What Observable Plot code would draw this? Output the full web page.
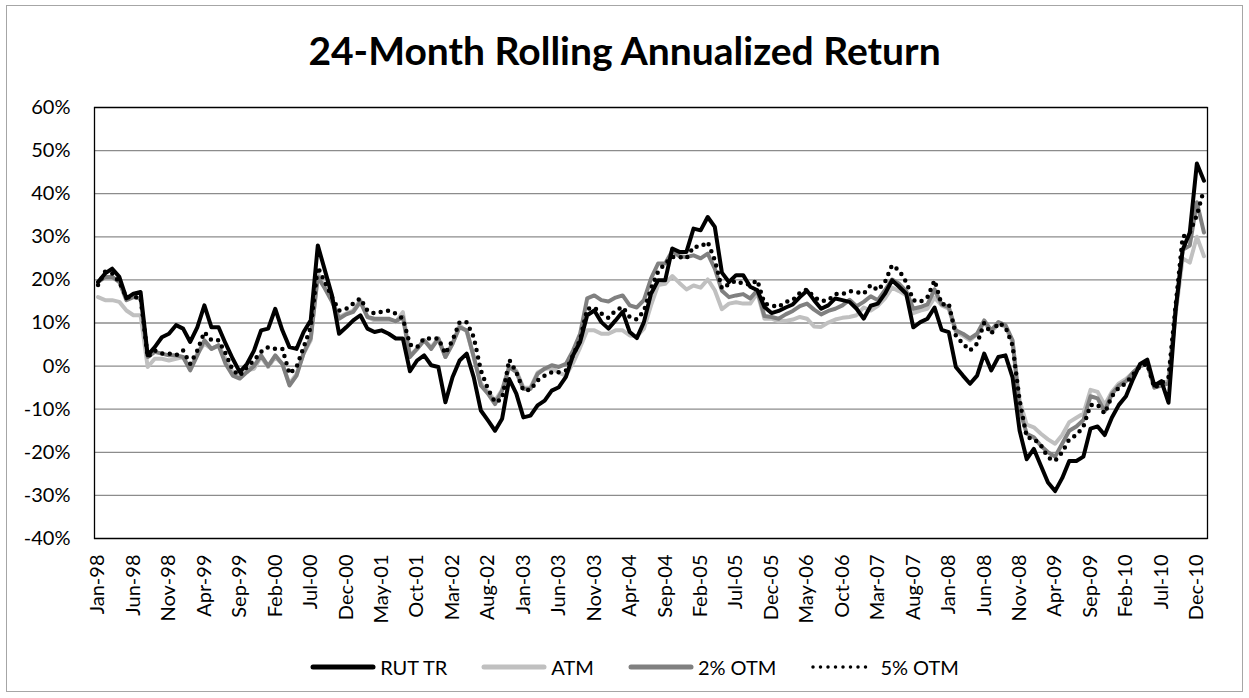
<!DOCTYPE html>
<html>
<head>
<meta charset="utf-8">
<script src="https://cdn.jsdelivr.net/npm/d3@7"></script>
<script src="https://cdn.jsdelivr.net/npm/@observablehq/plot@0.6"></script>
<style>
  html, body { margin: 0; padding: 0; background: #fff; }
  #chart { position: relative; width: 1249px; height: 698px; font-family: Lato, "Open Sans", sans-serif; overflow: hidden; }
  #frame { position: absolute; left: 6px; top: 5px; width: 1235px; height: 685px; border: 1.5px solid #a6a6a6; }
  #title { position: absolute; left: 0; top: 28px; width: 1249px; text-align: center; font-size: 39px; font-weight: 700; line-height: 44px; color: #000; }
  #plot { position: absolute; left: 0; top: 87px; }
  #legend { position: absolute; left: 10px; top: 654px; width: 1249px; display: flex; justify-content: center; align-items: center; font-size: 20px; line-height: 26px; color: #000; }
  .item { display: flex; align-items: center; margin: 0 17px; }
  .item svg { margin-right: 4px; }
</style>
</head>
<body>
<div id="chart">
  <div id="frame"></div>
  <div id="title">24-Month Rolling Annualized Return</div>
  <div id="plot"></div>
  <div id="legend"></div>
</div>
<script>
// Series names
const seriesNames = ["RUT TR", "ATM", "2% OTM", "5% OTM"];

// X tick labels, every 5 months starting Jan-98 (month index 0)
const tickLabels = ["Jan-98","Jun-98","Nov-98","Apr-99","Sep-99","Feb-00","Jul-00","Dec-00","May-01","Oct-01","Mar-02","Aug-02","Jan-03","Jun-03","Nov-03","Apr-04","Sep-04","Feb-05","Jul-05","Dec-05","May-06","Oct-06","Mar-07","Aug-07","Jan-08","Jun-08","Nov-08","Apr-09","Sep-09","Feb-10","Jul-10","Dec-10"];

// Y ticks (percent)
const yTicks = [-40, -30, -20, -10, 0, 10, 20, 30, 40, 50, 60];

// Monthly values (percent), Jan-98 .. Jan-11
const rutTR = [19.5,21.5,22.6,20.7,15.7,16.8,17.2,2.5,4.4,6.7,7.5,9.5,8.7,5.6,9.0,14.1,9.0,9.0,5.2,1.7,
  -1.4,0.5,3.6,8.3,8.7,13.3,8.3,4.4,4.0,7.9,10.6,28.0,22.2,16.4,7.5,9.0,10.6,11.8,8.7,7.9,
  8.3,7.5,6.4,6.4,-1.2,1.3,2.5,0.2,-0.2,-8.4,-2.6,1.3,2.9,-2.6,-10.3,-12.6,-15.0,-12.2,-3.0,-6.4,
  -11.9,-11.5,-9.1,-8.0,-5.7,-4.9,-2.5,2.5,5.6,11.8,12.9,10.2,8.7,10.6,12.6,7.9,6.5,10.2,16.8,19.9,
  19.9,27.3,26.5,26.5,31.9,31.5,34.6,32.3,21.7,19.5,21.1,21.1,18.4,17.6,13.7,12.3,12.8,13.6,14.3,16.0,
  17.5,15.3,13.3,14.1,15.7,15.3,14.9,13.3,11.0,14.0,14.5,16.8,19.9,18.4,16.8,9.0,10.2,11.0,13.6,8.4,
  7.9,-0.2,-2.2,-4.1,-2.2,2.9,-1.0,2.1,2.5,-2.6,-15.0,-21.6,-19.2,-23.1,-27.0,-29.0,-26.0,-22.0,-22.0,-21.0,
  -14.5,-14.0,-16.0,-12.0,-9.0,-7.0,-3.0,0.5,1.5,-4.5,-3.5,-8.5,13.0,27.0,31.0,47.0,43.0];

const atm = [16.0,15.3,15.3,14.9,12.9,11.8,11.8,-0.2,1.7,1.7,1.3,1.7,2.1,-0.6,2.9,5.2,4.0,4.8,1.7,-1.4,
  -2.6,-1.0,-0.6,2.1,-0.2,2.1,0.5,-4.1,-1.8,2.9,6.0,21.5,18.4,15.3,11.4,12.2,12.9,15.3,11.4,10.6,
  10.6,10.6,10.2,12.5,2.5,4.0,6.0,4.4,6.4,2.1,5.2,9.5,8.0,2.1,-4.0,-6.0,-8.0,-5.5,0.0,-1.0,
  -5.0,-5.0,-1.5,-0.6,-0.5,-1.5,-2.2,0.7,4.3,8.3,8.3,7.5,7.5,8.3,8.3,7.1,6.9,8.7,14.1,18.8,
  19.1,20.9,19.3,17.8,18.7,18.2,20.1,17.6,13.2,14.5,14.8,14.5,14.5,17.0,11.0,11.0,10.4,10.5,10.8,11.4,
  11.0,9.2,9.1,10.1,10.8,11.2,11.4,11.8,13.6,12.9,14.0,15.7,18.2,17.4,16.4,12.3,12.9,13.3,15.9,14.1,
  13.3,7.9,7.1,6.0,7.4,10.2,7.9,9.8,9.1,5.6,-8.0,-13.6,-14.2,-15.7,-17.0,-18.0,-16.0,-13.0,-12.0,-11.0,
  -5.5,-6.0,-9.0,-6.0,-4.0,-3.0,-1.5,0.0,0.5,-5.0,-4.0,-3.5,12.0,25.0,24.0,30.0,25.5];

const otm2 = [19.5,20.7,20.7,19.5,15.3,16.0,15.7,2.1,3.3,2.9,2.5,2.5,2.1,-1.0,2.5,6.0,4.0,4.8,0.5,-2.2,
  -2.9,-1.4,0.0,2.5,0.0,2.5,0.5,-4.5,-2.2,3.0,6.5,20.7,18.0,15.0,11.0,12.0,12.6,14.9,11.4,11.0,
  11.0,11.0,10.4,11.4,2.1,4.0,6.0,4.0,6.4,2.1,5.2,9.0,8.3,2.1,-4.5,-6.4,-8.8,-5.7,-0.2,-1.4,
  -5.3,-5.3,-1.8,-0.6,0.2,-0.2,0.5,3.6,7.5,15.7,16.4,15.3,15.0,15.9,16.4,14.1,13.6,15.3,20.3,23.8,
  23.8,26.7,25.5,25.3,25.7,25.0,26.1,22.6,17.5,16.0,16.4,16.7,15.7,17.6,11.6,11.4,11.0,12.0,12.8,13.9,
  14.5,13.1,12.0,12.8,13.3,14.1,15.4,13.9,14.9,16.2,15.3,17.6,20.1,19.1,17.4,13.3,13.7,14.3,17.8,14.3,
  13.7,8.3,7.5,6.4,7.5,10.6,8.3,10.2,9.5,6.0,-10.0,-15.7,-16.5,-18.5,-20.0,-21.0,-18.0,-15.0,-14.0,-12.5,
  -7.0,-7.5,-10.5,-6.5,-4.5,-3.5,-1.5,0.0,0.5,-5.0,-4.5,-4.0,13.0,27.0,28.0,38.0,31.0];

const otm5 = [18.8,21.9,21.5,19.5,16.0,16.0,16.0,2.1,3.6,2.9,2.9,2.5,3.6,0.5,3.6,7.9,6.0,6.0,2.9,-1.0,
  -2.2,-0.2,1.3,3.3,4.4,4.0,4.0,-1.8,-0.2,4.4,9.0,23.0,19.5,16.0,12.9,13.3,14.5,15.7,12.9,12.2,
  12.6,12.9,12.2,11.0,5.0,4.4,6.4,6.4,6.4,2.9,6.0,10.2,10.2,6.7,-1.0,-5.3,-8.4,-7.6,1.5,-1.4,
  -5.7,-5.5,-3.3,-2.2,-1.4,-1.4,-1.0,2.5,6.1,13.3,13.6,12.2,11.2,12.9,13.7,11.4,10.8,12.8,18.0,21.9,
  23.8,25.3,25.3,25.0,27.7,27.7,28.8,24.6,18.0,19.0,19.8,19.1,18.9,19.9,14.5,14.1,13.7,14.9,15.3,17.0,
  17.8,16.0,15.1,15.3,16.7,16.7,17.4,17.2,16.8,18.8,17.6,19.5,23.4,22.2,19.5,15.3,14.9,16.0,19.9,14.3,
  14.5,7.1,5.2,3.6,5.2,10.0,7.5,10.0,9.1,4.8,-8.0,-16.5,-16.9,-18.4,-21.2,-22.0,-20.0,-17.0,-16.0,-14.0,
  -9.0,-9.0,-11.0,-7.0,-5.0,-4.0,-2.0,0.0,0.5,-5.0,-4.0,-2.5,14.0,30.0,31.0,35.0,41.0];

const styles = {
  "RUT TR": {stroke: "#000000", strokeWidth: 4, dash: null},
  "ATM":    {stroke: "#c0c0c0", strokeWidth: 4, dash: null},
  "2% OTM": {stroke: "#808080", strokeWidth: 4, dash: null},
  "5% OTM": {stroke: "#000000", strokeWidth: 4.5, dash: "0 7.5"}
};

const seriesValues = {"RUT TR": rutTR, "ATM": atm, "2% OTM": otm2, "5% OTM": otm5};
const nMonths = rutTR.length;
const rows = name => seriesValues[name].map((v, i) => ({i, v}));
const tickIdx = tickLabels.map((_, k) => k * 5);

const drawOrder = ["ATM", "2% OTM", "RUT TR", "5% OTM"];

const chart = Plot.plot({
  width: 1249,
  height: 541,
  marginTop: 20,
  marginLeft: 94,
  marginRight: 42,
  marginBottom: 90,
  style: {fontFamily: "Lato, 'Open Sans', sans-serif", fontSize: "20px", color: "#000", background: "transparent", overflow: "visible"},
  x: {domain: [-0.5, nMonths - 0.5], ticks: tickIdx, tickFormat: d => tickLabels[d / 5], tickRotate: -90, tickSize: 0, tickPadding: 16, label: null},
  y: {domain: [-40, 60], ticks: yTicks, tickFormat: d => d + "%", tickSize: 0, tickPadding: 24, label: null},
  marks: [
    Plot.ruleY(yTicks, {stroke: "#8c8c8c", strokeWidth: 1.3}),
    ...drawOrder.map(name => Plot.line(rows(name), {
      x: "i", y: "v",
      stroke: styles[name].stroke,
      strokeWidth: styles[name].strokeWidth,
      strokeDasharray: styles[name].dash,
      strokeLinejoin: "round",
      strokeLinecap: "round"
    })),
    Plot.frame({stroke: "#000", strokeWidth: 1.3})
  ]
});
document.getElementById("plot").appendChild(chart);

// Legend
const legend = document.getElementById("legend");
seriesNames.forEach(name => {
  const s = styles[name];
  const item = document.createElement("div");
  item.className = "item";
  const ns = "http://www.w3.org/2000/svg";
  const svg = document.createElementNS(ns, "svg");
  svg.setAttribute("width", 66); svg.setAttribute("height", 10);
  const ln = document.createElementNS(ns, "line");
  ln.setAttribute("x1", 3); ln.setAttribute("x2", 63); ln.setAttribute("y1", 5); ln.setAttribute("y2", 5);
  ln.setAttribute("stroke", s.stroke); ln.setAttribute("stroke-width", s.dash ? 3.5 : 5);
  ln.setAttribute("stroke-linecap", "round");
  if (s.dash) ln.setAttribute("stroke-dasharray", "0 7.5");
  svg.appendChild(ln);
  const t = document.createElement("span");
  t.textContent = name;
  item.appendChild(svg); item.appendChild(t);
  legend.appendChild(item);
});
</script>
</body>
</html>
